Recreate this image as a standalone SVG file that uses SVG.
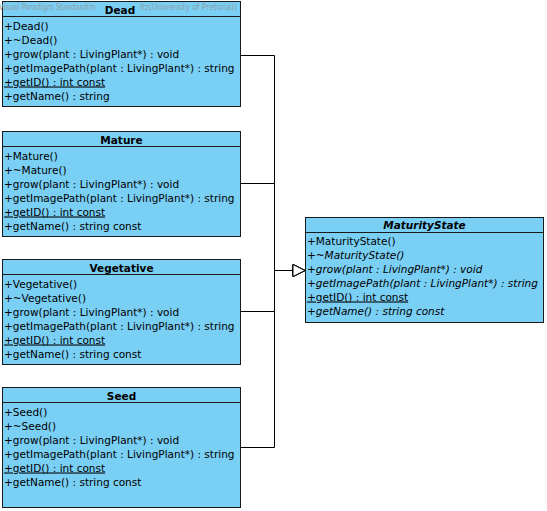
<svg xmlns="http://www.w3.org/2000/svg" width="547" height="511" viewBox="0 0 547 511">
<style>
.box{fill:#7ACFF5;stroke:#1a1a1a;stroke-width:1}
.div{stroke:#1a1a1a;stroke-width:1}
text{font-family:"DejaVu Sans","Liberation Sans",sans-serif;font-size:10.5px;fill:#000}
.title{font-weight:bold;text-anchor:middle}
.abs{font-style:italic}
.st{text-decoration:underline}
.wm{font-size:8px;fill:#8f9ea8}
.conn{fill:none;stroke:#000;stroke-width:1}
</style>
<defs>
<marker id="gen" markerUnits="userSpaceOnUse" markerWidth="14" markerHeight="14" viewBox="-1 -1 14 14" refX="12" refY="6" orient="auto">
<path d="M0,0 L12,6 L0,12 Z" fill="#fff" stroke="#000" stroke-width="1"/>
</marker>
</defs>
<g id="connectors">
<path class="conn" d="M240.5,55.5 H274.5 V270.5 H305" marker-end="url(#gen)"/>
<path class="conn" d="M240.5,183.5 H274.5 V270.5 H305" marker-end="url(#gen)"/>
<path class="conn" d="M240.5,311.5 H274.5 V270.5 H305" marker-end="url(#gen)"/>
<path class="conn" d="M240.5,447.5 H274.5 V270.5 H305" marker-end="url(#gen)"/>
</g>
<g id="Dead">
<rect class="box" x="2.5" y="1.5" width="238" height="105"/>
<line class="div" x1="2.5" y1="16.5" x2="240.5" y2="16.5"/>
<text class="wm" x="-1" y="10" textLength="97" lengthAdjust="spacingAndGlyphs">Visual Paradigm Standard(m</text>
<text class="wm" x="140" y="10" textLength="97" lengthAdjust="spacingAndGlyphs">ltz(University of Pretoria))</text>
<text class="title" x="120" y="13.5">Dead</text>
<text x="4" y="29.5">+Dead()</text>
<text x="4" y="43.5">+~Dead()</text>
<text x="4" y="57.5">+grow(plant : LivingPlant*) : void</text>
<text x="4" y="71.5">+getImagePath(plant : LivingPlant*) : string</text>
<text class="st" x="4" y="85.5">+getID() : int const</text>
<text x="4" y="99.5">+getName() : string</text>
</g>
<g id="Mature">
<rect class="box" x="2.5" y="131.5" width="238" height="105"/>
<line class="div" x1="2.5" y1="146.5" x2="240.5" y2="146.5"/>
<text class="title" x="121.5" y="143.5">Mature</text>
<text x="4" y="159.5">+Mature()</text>
<text x="4" y="173.5">+~Mature()</text>
<text x="4" y="187.5">+grow(plant : LivingPlant*) : void</text>
<text x="4" y="201.5">+getImagePath(plant : LivingPlant*) : string</text>
<text class="st" x="4" y="215.5">+getID() : int const</text>
<text x="4" y="229.5">+getName() : string const</text>
</g>
<g id="Vegetative">
<rect class="box" x="2.5" y="259.5" width="238" height="105"/>
<line class="div" x1="2.5" y1="274.5" x2="240.5" y2="274.5"/>
<text class="title" x="121.5" y="271.5">Vegetative</text>
<text x="4" y="287.5">+Vegetative()</text>
<text x="4" y="301.5">+~Vegetative()</text>
<text x="4" y="315.5">+grow(plant : LivingPlant*) : void</text>
<text x="4" y="329.5">+getImagePath(plant : LivingPlant*) : string</text>
<text class="st" x="4" y="343.5">+getID() : int const</text>
<text x="4" y="357.5">+getName() : string const</text>
</g>
<g id="Seed">
<rect class="box" x="2.5" y="387.5" width="238" height="120"/>
<line class="div" x1="2.5" y1="402.5" x2="240.5" y2="402.5"/>
<text class="title" x="121.5" y="399.5">Seed</text>
<text x="4" y="415.5">+Seed()</text>
<text x="4" y="429.5">+~Seed()</text>
<text x="4" y="443.5">+grow(plant : LivingPlant*) : void</text>
<text x="4" y="457.5">+getImagePath(plant : LivingPlant*) : string</text>
<text class="st" x="4" y="471.5">+getID() : int const</text>
<text x="4" y="485.5">+getName() : string const</text>
</g>
<g id="MaturityState">
<rect class="box" x="305.5" y="217.5" width="238" height="105"/>
<line class="div" x1="305.5" y1="232.5" x2="543.5" y2="232.5"/>
<text class="title abs" x="424.5" y="228.5">MaturityState</text>
<text x="307" y="244.5">+MaturityState()</text>
<text class="abs" x="307" y="258.5">+~MaturityState()</text>
<text class="abs" x="307" y="272.5">+grow(plant : LivingPlant*) : void</text>
<text class="abs" x="307" y="286.5">+getImagePath(plant : LivingPlant*) : string</text>
<text class="st" x="307" y="300.5">+getID() : int const</text>
<text class="abs" x="307" y="314.5">+getName() : string const</text>
</g>
</svg>
